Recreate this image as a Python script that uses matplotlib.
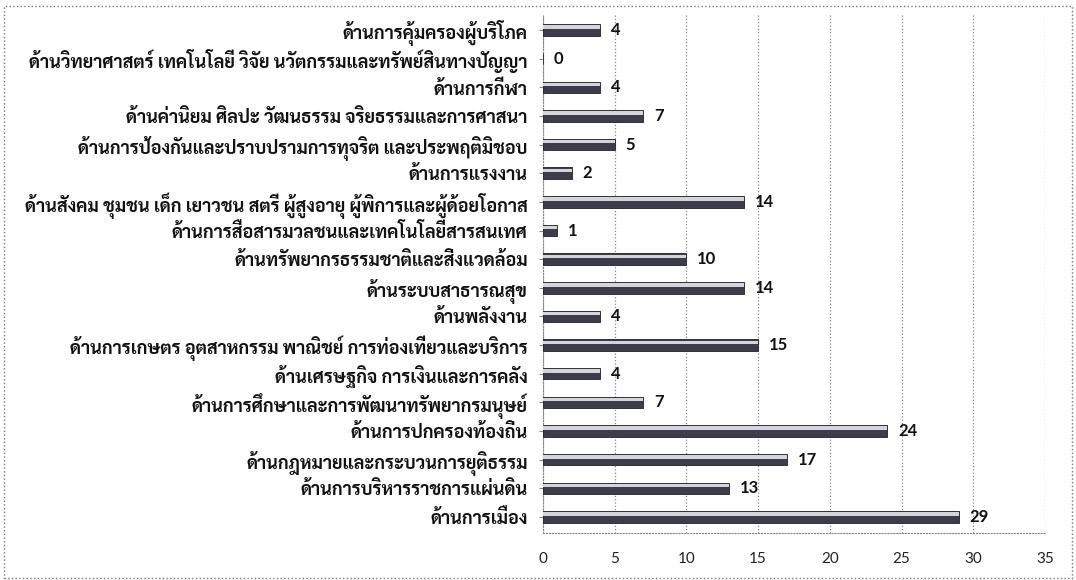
"""Horizontal bar chart: number of items per policy area (Thai labels)."""
import matplotlib
matplotlib.use("Agg")
import matplotlib.pyplot as plt
from matplotlib.patches import Rectangle

# ── data (top to bottom as in the chart) ────────────────────────────────────
categories = [
    "ด้านการคุ้มครองผู้บริโภค",
    "ด้านวิทยาศาสตร์ เทคโนโลยี วิจัย นวัตกรรมและทรัพย์สินทางปัญญา",
    "ด้านการกีฬา",
    "ด้านค่านิยม ศิลปะ วัฒนธรรม จริยธรรมและการศาสนา",
    "ด้านการป้องกันและปราบปรามการทุจริต และประพฤติมิชอบ",
    "ด้านการแรงงาน",
    "ด้านสังคม ชุมชน เด็ก เยาวชน สตรี ผู้สูงอายุ ผู้พิการและผู้ด้อยโอกาส",
    "ด้านการสื่อสารมวลชนและเทคโนโลยีสารสนเทศ",
    "ด้านทรัพยากรธรรมชาติและสิ่งแวดล้อม",
    "ด้านระบบสาธารณสุข",
    "ด้านพลังงาน",
    "ด้านการเกษตร อุตสาหกรรม พาณิชย์ การท่องเที่ยวและบริการ",
    "ด้านเศรษฐกิจ การเงินและการคลัง",
    "ด้านการศึกษาและการพัฒนาทรัพยากรมนุษย์",
    "ด้านการปกครองท้องถิ่น",
    "ด้านกฎหมายและกระบวนการยุติธรรม",
    "ด้านการบริหารราชการแผ่นดิน",
    "ด้านการเมือง",
]
counts = [4, 0, 4, 7, 5, 2, 14, 1, 10, 14, 4, 15, 4, 7, 24, 17, 13, 29]
x_ticks = [0, 5, 10, 15, 20, 25, 30, 35]

THAI = ["Sarabun", "Noto Sans Thai Looped", "Loma", "DejaVu Sans"]
NUM = ["Lato", "DejaVu Sans"]
plt.rcParams["font.family"] = THAI

# ── figure ──────────────────────────────────────────────────────────────────
fig = plt.figure(figsize=(10.76, 5.8), dpi=100)
fig.patch.set_facecolor("white")
ax = fig.add_axes([0.5046, 0.081, 0.4666, 0.893])

# bottom bar first for barh
ypos = list(range(len(categories)))[::-1]
ax.barh(ypos, counts, height=0.40, color="#3c3c4a", edgecolor="#222",
        linewidth=0.6, zorder=3)
# lighter top highlight to mimic the cylinder look
ax.barh([y + 0.10 for y in ypos], counts, height=0.12, color="#d4d4dc",
        linewidth=0, zorder=4)

for y, v in zip(ypos, counts):
    ax.text(v + 0.75, y, str(v), va="center", ha="left", fontsize=12,
            fontweight="bold", color="#111", family=NUM)

ax.set_xlim(0, 35)
ax.set_ylim(-0.56, len(categories) - 0.48)
ax.set_xticks(x_ticks)
ax.set_xticklabels([str(t) for t in x_ticks], fontsize=11, color="#222",
                   family=NUM)
ax.tick_params(axis="x", length=0, pad=14)
ax.set_yticks(ypos)
ax.set_yticklabels(categories, fontsize=13, fontweight="bold", color="#111")
ax.tick_params(axis="y", length=3, color="#888", pad=8)

ax.grid(axis="x", linestyle=":", color="#888", linewidth=0.9, zorder=0)
for side in ["top", "right"]:
    ax.spines[side].set_visible(False)
ax.spines["bottom"].set_linestyle(":")
ax.spines["bottom"].set_color("#888")
ax.spines["left"].set_linestyle(":")
ax.spines["left"].set_color("#888")

# dotted frame round the whole chart
fig.add_artist(Rectangle((0.004, 0.004), 0.992, 0.985, transform=fig.transFigure,
                         fill=False, linestyle=":", edgecolor="#777",
                         linewidth=1.0))

plt.savefig("out.png", dpi=100, facecolor=fig.get_facecolor())
